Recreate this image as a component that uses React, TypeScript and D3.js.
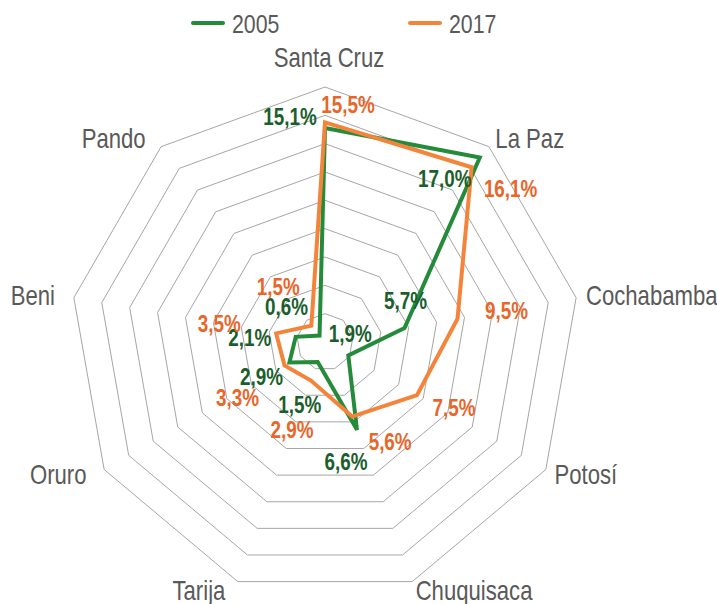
import React, { useEffect } from "react";
import * as d3 from "d3";

const regions = ["Santa Cruz", "La Paz", "Cochabamba", "Potosí", "Chuquisaca", "Tarija", "Oruro", "Beni", "Pando"];
const values2005 = [15.1, 17.0, 5.7, 1.9, 6.6, 1.5, 2.9, 2.1, 0.6];
const values2017 = [15.5, 16.1, 9.5, 7.5, 5.6, 2.9, 3.3, 3.5, 1.5];
const ringTicks = [2, 4, 6, 8, 10, 12, 14, 16, 18];

// label nudges relative to each point (dx, dy)
const off2005: [number, number][] = [[-35, -11], [-35, 21], [1, -27], [2, -22], [-11, 32], [-18, 43], [-28, 14], [-46, 1], [-33, -29]];
const off2017: [number, number][] = [[23, -18], [39, 22], [49, -8], [37, 13], [38, 25], [-19, 49], [-47, 32], [-57, -10], [-33, -39]];

const W = 717;
const H = 604;
const cx = 325;
const cy = 342;
const R = 255;
const font = "'Liberation Sans', Arial, sans-serif";
const narrow = 0.82; // fake Arial Narrow
const textGray = "#595959";

const series = [
  { name: "2005", values: values2005, line: "#238b3a", label: "#1a5e2b", off: off2005 },
  { name: "2017", values: values2017, line: "#f4843a", label: "#e8662a", off: off2017 },
];

const fmt = (v: number) => v.toFixed(1).replace(".", ",") + "%";

function NText(props: {
  x: number;
  y: number;
  anchor?: "start" | "middle" | "end";
  baseline?: string;
  size: number;
  weight?: string;
  fill: string;
  children: React.ReactNode;
}) {
  return (
    <text
      transform={`translate(${props.x},${props.y}) scale(${narrow},1)`}
      textAnchor={props.anchor || "start"}
      dominantBaseline={props.baseline || "central"}
      fontSize={props.size}
      fontWeight={props.weight || "normal"}
      fill={props.fill}
    >
      {props.children}
    </text>
  );
}

export default function App() {
  useEffect(() => {
    document.body.style.margin = "0";
  }, []);

  const r = d3.scaleLinear().domain([0, 18]).range([0, R]);
  const angle = d3.scaleLinear().domain([0, regions.length]).range([0, 2 * Math.PI]);
  const pt = (i: number, v: number): [number, number] => {
    const a = angle(i);
    return [cx + r(v) * Math.sin(a), cy - r(v) * Math.cos(a)];
  };
  const closed = d3.line<[number, number]>().curve(d3.curveLinearClosed);

  return (
    <svg width={W} height={H} style={{ display: "block", background: "#fff" }} fontFamily={font}>
      {ringTicks.map((t) => (
        <path key={t} d={closed(regions.map((_, i) => pt(i, t))) || ""} fill="none" stroke="#a6a6a6" strokeWidth={1} />
      ))}

      {series.map((s) => (
        <path
          key={s.name}
          d={closed(s.values.map((v, i) => pt(i, v))) || ""}
          fill="none"
          stroke={s.line}
          strokeWidth={4}
          strokeLinejoin="miter"
        />
      ))}

      {regions.map((name, i) => {
        const a = angle(i);
        const sx = Math.sin(a);
        const cyv = Math.cos(a);
        const anchor = sx > 0.1 ? "start" : sx < -0.1 ? "end" : "middle";
        const isTop = cyv > 0.9;
        const gap = isTop ? 15 : 10;
        const x = cx + (R + gap) * sx + (anchor === "middle" ? 4 : anchor === "end" ? -9 : 0);
        const y = cy - (R + gap) * cyv;
        return (
          <NText
            key={name}
            x={x}
            y={isTop ? y - 5 : y}
            anchor={anchor}
            baseline={isTop ? "alphabetic" : "central"}
            size={27}
            fill={textGray}
          >
            {name}
          </NText>
        );
      })}

      {series.map((s) =>
        s.values.map((v, i) => {
          const [x, y] = pt(i, v);
          return (
            <NText
              key={s.name + i}
              x={x + s.off[i][0]}
              y={y + s.off[i][1]}
              anchor="middle"
              size={23}
              weight="bold"
              fill={s.label}
            >
              {fmt(v)}
            </NText>
          );
        })
      )}

      {series.map((s, k) => {
        const x0 = k === 0 ? 193 : 410;
        return (
          <g key={s.name}>
            <line x1={x0} x2={x0 + 30} y1={23} y2={23} stroke={s.line} strokeWidth={4} strokeLinecap="round" />
            <NText x={x0 + 39} y={24} size={26} fill={textGray}>
              {s.name}
            </NText>
          </g>
        );
      })}
    </svg>
  );
}
